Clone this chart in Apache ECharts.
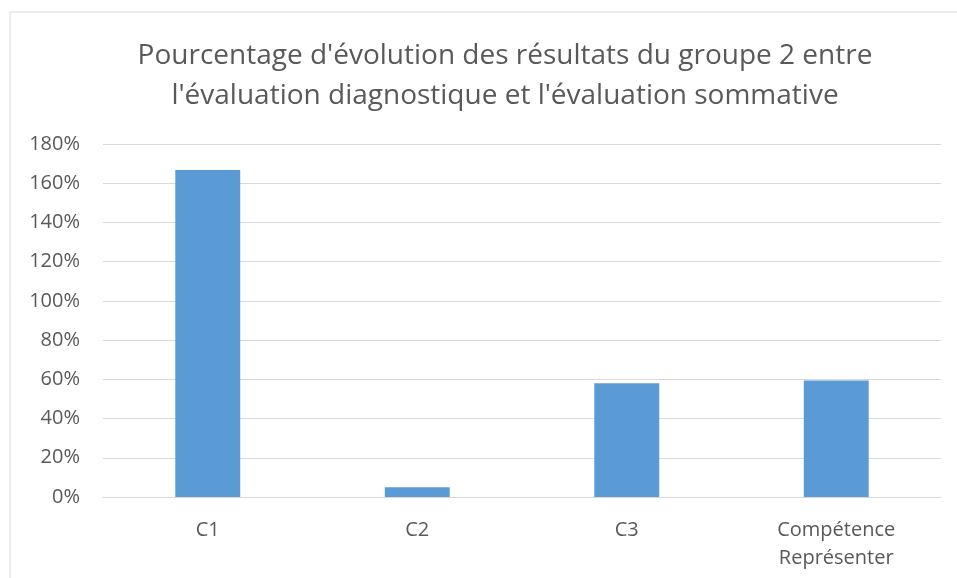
<!DOCTYPE html>
<html>
<head>
<meta charset="utf-8">
<script src="https://cdn.jsdelivr.net/npm/echarts@6/dist/echarts.min.js"></script>
<style>
  html, body { margin: 0; padding: 0; background: #fff; }
  #chart { width: 957px; height: 578px; }
</style>
</head>
<body>
<div id="chart"></div>
<script>
// données
var categories = ['C1', 'C2', 'C3', 'Compétence\nReprésenter']
var evolution = [166.7, 5, 58, 59.4]
var yTicks = [0, 20, 40, 60, 80, 100, 120, 140, 160, 180]

var chart = echarts.init(document.getElementById('chart'))
var fontFamily = '"Open Sans", "Noto Sans", sans-serif'
var option = {
  animation: false,
  backgroundColor: '#fff',
  graphic: [
    {
      type: 'rect',
      shape: { x: 10, y: 12, width: 960, height: 600 },
      style: { fill: 'none', stroke: '#d9d9d9', lineWidth: 1 },
      silent: true
    }
  ],
  title: {
    text: "Pourcentage d'évolution des résultats du groupe 2 entre\nl'évaluation diagnostique et l'évaluation sommative",
    left: 500,
    textAlign: 'center',
    top: 31,
    textStyle: {
      fontFamily: fontFamily,
      fontSize: 28,
      fontWeight: 'normal',
      color: '#595959',
      lineHeight: 40
    }
  },
  grid: {
    left: 103,
    right: 16,
    top: 144,
    bottom: 81
  },
  xAxis: {
    type: 'category',
    data: categories,
    axisLine: { lineStyle: { color: '#d9d9d9', width: 1 } },
    axisTick: { show: false },
    axisLabel: {
      fontFamily: fontFamily,
      fontSize: 20,
      color: '#595959',
      margin: 19,
      lineHeight: 28
    }
  },
  yAxis: {
    type: 'value',
    min: yTicks[0],
    max: yTicks[yTicks.length - 1],
    interval: yTicks[1] - yTicks[0],
    axisLine: { show: false },
    axisTick: { show: false },
    splitLine: { lineStyle: { color: '#d9d9d9', width: 1 } },
    axisLabel: {
      fontFamily: fontFamily,
      fontSize: 20,
      color: '#595959',
      margin: 23,
      formatter: '{value}%'
    }
  },
  series: [
    {
      type: 'bar',
      data: evolution,
      barWidth: '31%',
      itemStyle: { color: '#5b9bd5' }
    }
  ]
}
chart.setOption(option)
</script>
</body>
</html>
